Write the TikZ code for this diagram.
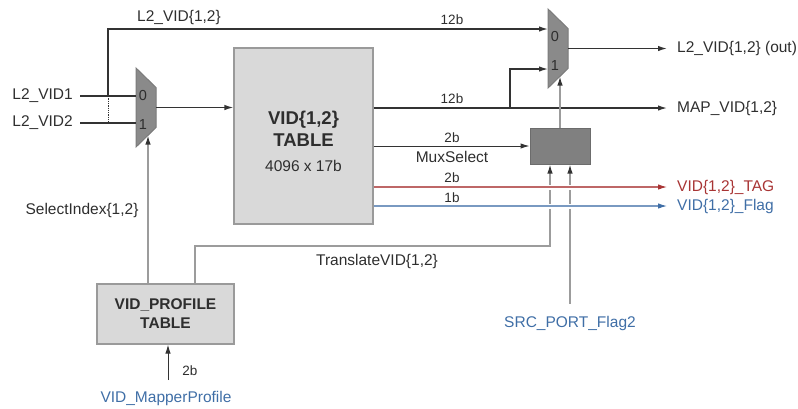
\documentclass[tikz,border=0pt]{standalone}
\usepackage{fontspec}
\setmainfont{Liberation Sans}
\usepackage{xcolor}
\usepackage{tikz}
\usetikzlibrary{arrows.meta,calc}
\definecolor{VidInk}{HTML}{2E2E2E}
\definecolor{VidWire}{HTML}{333333}
\definecolor{VidCtrl}{HTML}{9C9C9C}
\definecolor{VidTable}{HTML}{D9D9D9}
\definecolor{VidRule}{HTML}{9A9A9A}
\definecolor{VidMux}{HTML}{8A8A8A}
\definecolor{VidSel}{HTML}{808080}
\definecolor{VidTag}{HTML}{A83434}
\definecolor{VidFlag}{HTML}{3F6EA6}

\tikzset{
  mux/.pic={
    \path[draw=VidRule!80!black,fill=VidMux,line width=1pt]
      (-10,-39.5) -- (10,-20) -- (10,20) -- (-10,39.5) -- cycle;
    \coordinate (-west) at (-10,0);
    \coordinate (-out) at (10,0);
    \coordinate (-sel) at (2,28);
    \node[font=\fontsize{14.5}{14}\selectfont,text=VidInk,inner sep=0pt] (-zero) at (-3,-12) {0};
    \node[font=\fontsize{14.5}{14}\selectfont,text=VidInk,inner sep=0pt] (-one) at (-3,17) {1};
  }
}

\begin{document}
\begin{tikzpicture}[x=1pt,y=-1pt,
  txt/.style={font=\fontsize{15.5}{17}\selectfont,text=VidInk,inner sep=0pt},
  bits/.style={font=\fontsize{13.5}{14}\selectfont,text=VidInk,inner sep=0pt},
  inlabel/.style={txt,anchor=east,inner xsep=7pt},
  outlabel/.style={txt,anchor=west,inner xsep=10pt},
  tblbox/.style={draw=VidRule,fill=VidTable,line width=1.2pt},
  selbox/.style={draw=VidRule!70!black,fill=VidSel,line width=1pt,minimum width=60pt,minimum height=36pt},
  wire/.style={draw=VidWire,line width=1.3pt},
  edge/.style={wire,-{Latex[length=9pt,width=5.5pt]}},
  ctrl/.style={draw=VidCtrl,line width=1.3pt},
  ctrledge/.style={ctrl,-{Latex[length=9pt,width=5.5pt,color=VidWire]}},
  tagedge/.style={draw=VidTag!75,line width=1.1pt,-{Latex[length=9pt,width=5.5pt,color=VidTag]},
    preaction={draw=white,line width=5pt,-,shorten <=4pt,shorten >=12pt}},
  flagedge/.style={tagedge,draw=VidFlag!70,-{Latex[length=9pt,width=5.5pt,color=VidFlag]}}
]
\useasboundingbox (0,0) rectangle (798,408);

% tables and select logic
\node[tblbox,minimum width=139pt,minimum height=176pt] (vidtbl) at (303.5,136) {};
\node[txt,align=center,font=\fontsize{18.5}{22}\selectfont\bfseries] (vidtbltxt) at (303.5,141)
  {VID\{1,2\}\\TABLE\\[3pt]{\mdseries\fontsize{15.5}{16}\selectfont 4096 x 17b}};
\node[tblbox,minimum width=137pt,minimum height=60pt,align=center,text=VidInk,
  font=\fontsize{15.5}{19}\selectfont\bfseries] (proftbl) at (165.5,314) {VID\_PROFILE\\TABLE};
\node[selbox] (muxsel) at (560,146) {};
\pic (vidmux) at (146,107.5) {mux};
\pic (outmux) at (558,48.5) {mux};

% inputs
\node[inlabel] (vid1) at (80,96) {L2\_VID1};
\node[inlabel] (vid2) at (80,123) {L2\_VID2};
\coordinate (tap) at (108,96);
\coordinate (topbus) at (108,29);
\draw[wire] (vid1.east) -- (vid1.east -| vidmux-west);
\draw[wire] (vid2.east) -- (vid2.east -| vidmux-west);
\draw[wire,densely dotted,line width=1pt] (tap) -- (tap |- vid2.east);
\draw[edge] (tap) -- (topbus) -- (topbus -| outmux-west);
\node[txt] (topname) at (179,17) {L2\_VID\{1,2\}};
\node[bits] (topbits) at (452,20) {12b};
\draw[edge] (vidmux-out) -- (vidmux-out -| vidtbl.west);

% outputs
\node[outlabel] (l2out) at (667,48) {L2\_VID\{1,2\} (out)};
\node[outlabel] (mapvid) at (667,108) {MAP\_VID\{1,2\}};
\node[outlabel,text=VidTag] (vidtag) at (667,187) {VID\{1,2\}\_TAG};
\node[outlabel,text=VidFlag] (vidflag) at (667,206) {VID\{1,2\}\_Flag};
\coordinate (split) at (510,108);
\draw[edge] (outmux-out) -- (outmux-out -| l2out.west);
\draw[edge] (mapvid.west -| vidtbl.east) -- (mapvid.west);
\draw[edge] (split) |- ($(outmux-west)+(0,20.5)$);
\node[bits] (mapbits) at (452,99) {12b};
\draw[wire,line width=1pt,-{Latex[length=9pt,width=5.5pt]}] (vidtbl.east |- muxsel.west) -- (muxsel.west);
\node[bits] (selbits) at (452,138) {2b};
\node[txt] (selname) at (452,157) {MuxSelect};
\draw[ctrledge] (muxsel.north) -- (outmux-sel);

% control paths
\node[txt] (selidx) at (82,210) {SelectIndex\{1,2\}};
\draw[ctrledge] (proftbl.north -| vidmux-sel) -- (vidmux-sel);
\coordinate (xlate) at (195,246);
\draw[ctrledge] (proftbl.north -| xlate) -- (xlate) -| ([xshift=-10pt]muxsel.south);
\node[txt] (xlatename) at (377,261) {TranslateVID\{1,2\}};
\node[txt,text=VidFlag] (srcflag) at (570,323) {SRC\_PORT\_Flag2};
\draw[ctrledge,shorten <=12pt] (srcflag.north) -- (srcflag.north |- muxsel.south);
\node[txt,text=VidFlag] (mapper) at (166,398) {VID\_MapperProfile};
\coordinate (mapin) at (168,380);
\draw[wire,line width=1pt,-{Latex[length=9pt,width=5.5pt]}] (mapin) -- (mapin |- proftbl.south);
\node[bits] (mapperbits) at (190,371) {2b};

% tag and flag
\draw[tagedge] (vidtbl.east |- vidtag.west) -- (vidtag.west);
\node[bits] (tagbits) at (452,178) {2b};
\draw[flagedge] (vidtbl.east |- vidflag.west) -- (vidflag.west);
\node[bits] (flagbits) at (452,198) {1b};
\end{tikzpicture}
\end{document}
